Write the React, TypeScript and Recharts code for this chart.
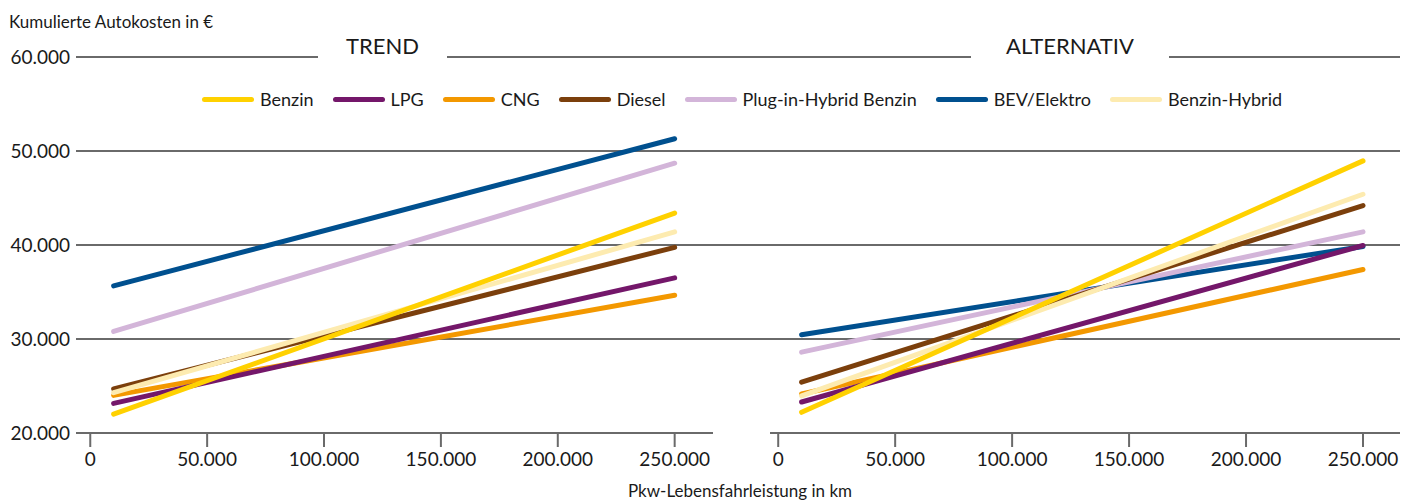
import { LineChart, Line, XAxis, YAxis, CartesianGrid, ReferenceLine } from 'recharts'

// Laufleistung (km) – jeweils Start- und Endpunkt
const km = [10000, 250000]

const seriesKeys = ['benzin', 'lpg', 'cng', 'diesel', 'phev', 'bev', 'hybrid']
const seriesNames = ['Benzin', 'LPG', 'CNG', 'Diesel', 'Plug-in-Hybrid Benzin', 'BEV/Elektro', 'Benzin-Hybrid']
const seriesColors = ['#FFD100', '#74176A', '#F39800', '#7B3F0C', '#D3B5D9', '#00508F', '#FDEBB0']
// draw order (last = on top)
const drawOrder = ['bev', 'phev', 'cng', 'lpg', 'diesel', 'hybrid', 'benzin']

// Szenario TREND
const trendBenzin = [22000, 43400]
const trendLpg = [23150, 36500]
const trendCng = [24000, 34650]
const trendDiesel = [24700, 39750]
const trendPhev = [30800, 48700]
const trendBev = [35650, 51300]
const trendHybrid = [24300, 41400]

// Szenario ALTERNATIV
const altBenzin = [22200, 48950]
const altLpg = [23300, 39950]
const altCng = [24150, 37400]
const altDiesel = [25400, 44200]
const altPhev = [28600, 41400]
const altBev = [30450, 39850]
const altHybrid = [23950, 45400]

const yTicks = [20000, 30000, 40000, 50000, 60000]
const xTicks = [0, 50000, 100000, 150000, 200000, 250000]

const trendSeries = [trendBenzin, trendLpg, trendCng, trendDiesel, trendPhev, trendBev, trendHybrid]
const altSeries = [altBenzin, altLpg, altCng, altDiesel, altPhev, altBev, altHybrid]

const buildRows = (series: number[][]) =>
  km.map((k, i) => {
    const row: Record<string, number> = { km: k }
    seriesKeys.forEach((key, s) => {
      row[key] = series[s][i]
    })
    return row
  })

const trendData = buildRows(trendSeries)
const altData = buildRows(altSeries)

const FONT = 'Lato, "Open Sans", sans-serif'
const TEXT = '#1a1a1a'
const GRID = '#6a6a6a'

const fmt = (v: number) => String(v).replace(/\B(?=(\d{3})+(?!\d))/g, '.')

const tickStyle = { fontSize: 19, fill: TEXT, fontFamily: FONT }

function renderLines() {
  return drawOrder.map((key) => {
    const idx = seriesKeys.indexOf(key)
    return (
      <Line
        key={key}
        type="linear"
        dataKey={key}
        name={seriesNames[idx]}
        stroke={seriesColors[idx]}
        strokeWidth={5}
        strokeLinecap="round"
        dot={false}
        activeDot={false}
        isAnimationActive={false}
      />
    )
  })
}

export default function App() {
  return (
    <div
      style={{
        position: 'absolute',
        left: 0,
        top: 0,
        width: 1401,
        height: 500,
        background: '#fff',
        fontFamily: FONT,
        color: TEXT,
        overflow: 'hidden',
      }}
    >
      {/* TREND */}
      <div style={{ position: 'absolute', left: 0, top: 0 }}>
        <LineChart width={713} height={500} data={trendData} margin={{ top: 57, right: 0, left: 0, bottom: 27 }}>
          <CartesianGrid vertical={false} stroke={GRID} strokeWidth={2} />
          <XAxis
            dataKey="km"
            type="number"
            domain={[-6100, 266400]}
            ticks={xTicks}
            tickFormatter={fmt}
            allowDataOverflow
            height={40}
            tickSize={14}
            tickMargin={6}
            tick={tickStyle}
            axisLine={{ stroke: GRID, strokeWidth: 2 }}
            tickLine={{ stroke: GRID, strokeWidth: 2 }}
            interval={0}
          />
          <YAxis
            type="number"
            domain={[20000, 60000]}
            ticks={yTicks}
            tickFormatter={fmt}
            width={76}
            tickSize={4}
            tickMargin={2}
            axisLine={false}
            tickLine={false}
            tick={tickStyle}
            interval={0}
          />
          {renderLines()}
        </LineChart>
      </div>

      {/* ALTERNATIV */}
      <div style={{ position: 'absolute', left: 699, top: 0 }}>
        <LineChart width={702} height={500} data={altData} margin={{ top: 57, right: 1, left: 0, bottom: 27 }}>
          <CartesianGrid
            vertical={false}
            stroke={GRID}
            strokeWidth={2}
            horizontalValues={[30000, 40000, 50000, 60000]}
          />
          <XAxis
            dataKey="km"
            type="number"
            domain={[-33860, 265820]}
            ticks={xTicks}
            tickFormatter={fmt}
            allowDataOverflow
            height={40}
            tickSize={14}
            tickMargin={6}
            tick={tickStyle}
            axisLine={false}
            tickLine={{ stroke: GRID, strokeWidth: 2 }}
            interval={0}
          />
          <YAxis hide type="number" domain={[20000, 60000]} ticks={[30000, 40000, 50000, 60000]} />
          <ReferenceLine
            segment={[
              { x: -3500, y: 20000 },
              { x: 265820, y: 20000 },
            ]}
            stroke={GRID}
            strokeWidth={2}
          />
          {renderLines()}
        </LineChart>
      </div>

      {/* y-axis title */}
      <div style={{ position: 'absolute', left: 9, top: 13, fontSize: 17, lineHeight: '17px', whiteSpace: 'nowrap' }}>
        Kumulierte Autokosten in €
      </div>

      {/* panel titles over the 60.000 line */}
      <div
        style={{
          position: 'absolute',
          left: 318,
          top: 30,
          width: 129,
          height: 32,
          background: '#fff',
          textAlign: 'center',
          fontSize: 22,
          lineHeight: '32px',
        }}
      >
        TREND
      </div>
      <div
        style={{
          position: 'absolute',
          left: 971,
          top: 30,
          width: 198,
          height: 32,
          background: '#fff',
          textAlign: 'center',
          fontSize: 22,
          lineHeight: '32px',
        }}
      >
        ALTERNATIV
      </div>

      {/* legend */}
      <div
        style={{
          position: 'absolute',
          left: 0,
          width: 1484,
          top: 88,
          height: 22,
          display: 'flex',
          justifyContent: 'center',
          alignItems: 'center',
          gap: 19,
          fontSize: 18,
          whiteSpace: 'nowrap',
        }}
      >
        {seriesKeys.map((key, i) => (
          <div key={key} style={{ display: 'flex', alignItems: 'center', gap: 6 }}>
            <span
              style={{ display: 'inline-block', width: 52, height: 5, borderRadius: 3, background: seriesColors[i] }}
            />
            <span>{seriesNames[i]}</span>
          </div>
        ))}
      </div>

      {/* x-axis title */}
      <div
        style={{
          position: 'absolute',
          left: 540,
          width: 400,
          top: 482,
          textAlign: 'center',
          fontSize: 17,
          lineHeight: '17px',
          whiteSpace: 'nowrap',
        }}
      >
        Pkw-Lebensfahrleistung in km
      </div>
    </div>
  )
}
